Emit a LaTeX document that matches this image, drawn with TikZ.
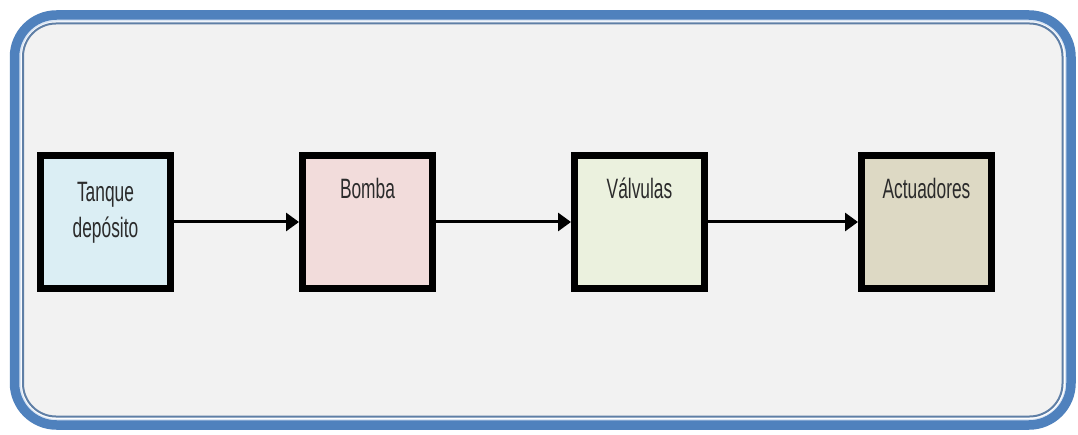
\documentclass[tikz,border=0pt]{standalone}
\usepackage{fontspec}
\usepackage{tikz}
\usetikzlibrary{arrows.meta}
\newfontfamily\boxfont[FakeStretch=0.62]{Liberation Sans}
\definecolor{framblue}{HTML}{4F81BD}
\definecolor{framthin}{HTML}{5F7FA6}
\definecolor{framgap}{HTML}{D9E5F4}
\definecolor{panelgray}{HTML}{F2F2F2}
\definecolor{tankfill}{HTML}{DBEEF4}
\definecolor{pumpfill}{HTML}{F2DCDB}
\definecolor{valvefill}{HTML}{EBF1DE}
\definecolor{actfill}{HTML}{DDD9C4}
\definecolor{txtgray}{HTML}{2B2B2B}

\begin{document}
\begin{tikzpicture}[
        x=1pt, y=-1pt,
        component/.style={
            draw=black,
            line width=7pt,
            rectangle,
            minimum width=130pt,
            minimum height=133pt
        },
        toptext/.style 2 args={
            label={[anchor=base, yshift=#1, text=txtgray, align=center,
                    font=\boxfont\fontsize{28}{36.5}\selectfont]north:#2}
        },
        arrow/.style={
            -{Triangle[length=13pt, width=18pt]},
            line width=3pt
        }
    ]

    \fill[white] (0,0) rectangle (1078,435);
    \useasboundingbox (0,0) rectangle (1078,435);

    % frame
    \draw[framthin, line width=2pt, fill=panelgray, rounded corners=33pt]
        (23,23.5) rectangle (1062.5,416.5);
    \draw[framgap, line width=3pt, rounded corners=37pt]
        (19.5,20) rectangle (1066.5,420.5);
    \draw[framblue, line width=9.5pt, rounded corners=42pt]
        (14.5,15) rectangle (1071,425);

    \node[component, fill=tankfill, toptext={-86pt}{Tanque\\dep\'osito}] (tank) at (105.5,222) {};
    \node[component, fill=pumpfill, toptext={-46.5pt}{Bomba}] (pump) at (367.5,222) {};
    \node[component, fill=valvefill, toptext={-46.5pt}{V\'alvulas}] (valves) at (639.5,222) {};
    \node[component, fill=actfill, toptext={-46.5pt}{Actuadores}] (actuators) at (926.5,222) {};

    \draw[arrow] (tank) to (pump);
    \draw[arrow] (pump) to (valves);
    \draw[arrow] (valves) to (actuators);

\end{tikzpicture}
\end{document}
